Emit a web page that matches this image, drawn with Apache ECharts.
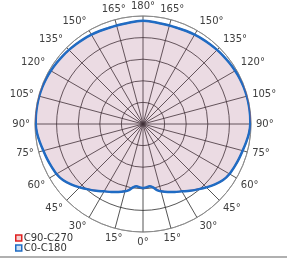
<!DOCTYPE html>
<html>
<head>
<meta charset="utf-8">
<script src="https://cdn.jsdelivr.net/npm/echarts@6/dist/echarts.min.js"></script>
<style>
html,body{margin:0;padding:0;background:#fff;}
#c{width:287px;height:261px;}
</style>
</head>
<body>
<div id="c"></div>
<script>
// gamma angles measured from nadir (0 deg at bottom)
var gammaAngles = [0,3,6,9,12,15,20,25,30,35,40,45,50,55,60,65,70,75,80,85,90,95,100,105,110,115,120,125,130,135,140,145,150,155,160,165,170,175,180];
// C180 half-plane (left side), relative intensity (%)
var c180Values = [59.5,58.8,58,59.5,62.5,64.5,67,69.5,72,75.5,79,83,87,90.5,92.5,93.5,94.5,95.5,97,98.5,99.3,99.5,99.5,99.5,99.3,99,98.5,98,97.5,97,96.5,96,95.5,95,94.5,94.5,94.5,95,95.5];
// C0 half-plane (right side), relative intensity (%)
var c0Values = [59.5,58.8,58,59.5,62.5,64.5,67,69.5,72,75.5,79,83,87,90.5,92.5,93.5,94.5,95.5,97,98.5,99.3,99.5,99.5,99.5,99.3,99,98.5,98,97.5,97,96.5,96,95.5,95,94.5,94.5,94.5,95,95.5];
// C90-C270 (coincides with / lies under C0-C180)
var c90Values = [59.5,58.8,58,59.5,62.5,64.5,67,69.5,72,75.5,79,83,87,90.5,92.5,93.5,94.5,95.5,97,98.5,99.3,99.5,99.5,99.5,99.3,99,98.5,98,97.5,97,96.5,96,95.5,95,94.5,94.5,94.5,95,95.5];
var c270Values = [59.5,58.8,58,59.5,62.5,64.5,67,69.5,72,75.5,79,83,87,90.5,92.5,93.5,94.5,95.5,97,98.5,99.3,99.5,99.5,99.5,99.3,99,98.5,98,97.5,97,96.5,96,95.5,95,94.5,94.5,94.5,95,95.5];
var seriesNames = ['C90-C270','C0-C180'];

function buildLoop(leftVals, rightVals){
  var pts = [];
  for (var i = 0; i < gammaAngles.length; i++) pts.push([leftVals[i], gammaAngles[i]]);
  for (var j = gammaAngles.length - 2; j >= 0; j--) pts.push([rightVals[j], 360 - gammaAngles[j]]);
  return pts;
}

var chart = echarts.init(document.getElementById('c'), null, {renderer:'canvas'});
chart.setOption({
  animation:false,
  backgroundColor:'#fff',
  polar:{center:[143,124], radius:108},
  angleAxis:{
    type:'value', min:0, max:360, interval:15, startAngle:270, clockwise:true,
    axisLine:{show:true, lineStyle:{color:'#8a8a8a', width:1}},
    axisTick:{show:false},
    axisLabel:{margin:5, color:'#404040', fontSize:10, fontFamily:'DejaVu Sans',
      formatter:function(v){ if (v>=360) return ''; return (v<=180? v : 360-v) + '°'; }},
    splitLine:{show:true, lineStyle:{color:'#2a2a2a', width:0.8}}
  },
  radiusAxis:{
    min:0, max:100, interval:20,
    axisLine:{show:false}, axisTick:{show:false}, axisLabel:{show:false},
    splitLine:{show:true, lineStyle:{color:['#2a2a2a','#2a2a2a','#2a2a2a','#2a2a2a','#2a2a2a','#8a8a8a'], width:0.8}}
  },
  legend:{
    orient:'vertical', left:15, top:233, height:30, padding:0, itemWidth:6, itemHeight:6, itemGap:0,
    icon:'rect',
    textStyle:{fontSize:10, lineHeight:10, color:'#333', fontFamily:'DejaVu Sans', padding:[0,0,0,-3]},
    data:[
      {name:seriesNames[0], itemStyle:{color:'#f4d0d0', borderColor:'#e02020', borderWidth:1.5}},
      {name:seriesNames[1], itemStyle:{color:'#cfe0f2', borderColor:'#1f6cc4', borderWidth:1.5}}
    ]
  },
  graphic:[{type:'rect', shape:{x:0,y:256,width:287,height:2}, style:{fill:'#b0b0b0'}}],
  series:[
    {name:seriesNames[0], type:'line', coordinateSystem:'polar', showSymbol:false, smooth:0.3,
     data:buildLoop(c270Values, c90Values),
     lineStyle:{color:'#e02020', width:1.5}, itemStyle:{color:'#e02020'},
     areaStyle:{color:'rgba(165,75,110,0.24)'}},
    {name:seriesNames[1], type:'line', coordinateSystem:'polar', showSymbol:false, smooth:0.3,
     data:buildLoop(c180Values, c0Values),
     lineStyle:{color:'#1f6cc4', width:2.5}, itemStyle:{color:'#1f6cc4'},
     areaStyle:{color:'rgba(150,100,130,0.06)'}}
  ]
});
</script>
</body>
</html>
